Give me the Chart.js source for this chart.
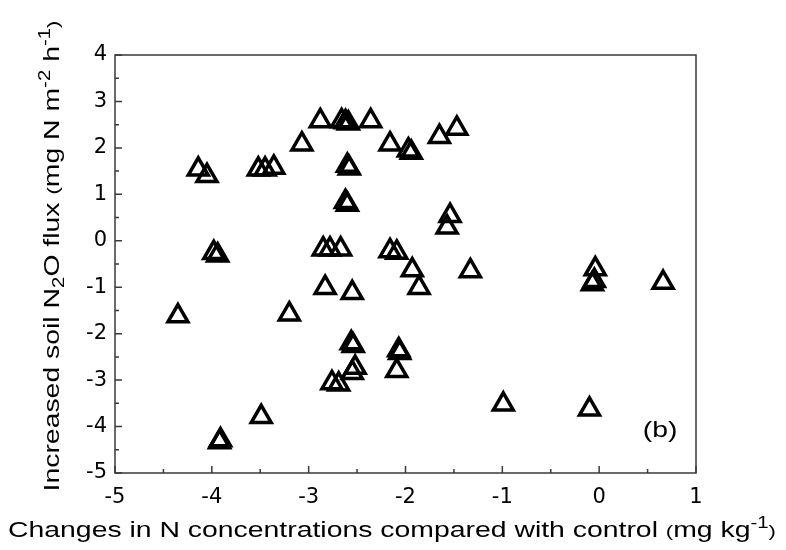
<!DOCTYPE html>
<html><head><meta charset="utf-8">
<script src="https://cdn.jsdelivr.net/npm/chart.js@4/dist/chart.umd.min.js"></script>
<style>html,body{margin:0;padding:0;background:#fff;}#wrap{width:786px;height:550px;}</style>
</head><body><div id="wrap"><canvas id="c" width="786" height="550"></canvas></div>
<script>
// ---- data ----
const xValues = [-4.14,-4.05,-3.52,-3.45,-3.36,-3.07,-2.88,-2.66,-2.62,-2.59,-2.36,-2.16,-1.97,-1.94,-1.65,-1.47,
  -2.60,-2.58,-2.62,-2.60,-1.54,-1.57,-3.98,-3.94,-2.85,-2.78,-2.67,-2.16,-2.09,-1.93,-1.86,-1.33,
  -0.04,-0.05,-0.07,0.66,-2.83,-2.55,-4.35,-3.20,-2.56,-2.54,-2.07,-2.06,-2.09,-2.52,-2.55,-2.76,-2.69,
  -3.49,-3.91,-3.92,-0.99,-0.10];
const yValues = [1.54,1.40,1.54,1.54,1.58,2.08,2.58,2.58,2.56,2.53,2.58,2.08,1.95,1.90,2.24,2.42,
  1.62,1.56,0.84,0.78,0.54,0.29,-0.26,-0.31,-0.18,-0.18,-0.18,-0.22,-0.25,-0.63,-1.01,-0.65,
  -0.61,-0.86,-0.93,-0.90,-1.01,-1.12,-1.62,-1.58,-2.20,-2.26,-2.35,-2.41,-2.80,-2.73,-2.84,-3.06,-3.09,
  -3.79,-4.29,-4.33,-3.52,-3.63];
const xTickValues = [-5,-4,-3,-2,-1,0,1];
const xTickLabels = ['-5','-4','-3','-2','-1','0','1'];
const yTickValues = [-5,-4,-3,-2,-1,0,1,2,3,4];
const yTickLabels = ['-5','-4','-3','-2','-1','0','1','2','3','4'];
const xTitleParts = ['Changes in N concentrations compared with control ', '(', 'mg kg', '-1', ')'];
const xTitleKinds = ['n','s','n','sup','s'];
const yTitleParts = ['Increased soil N', '2', 'O flux ', '(', 'mg N m', '-2', ' h', '-1', ')'];
const yTitleKinds = ['n','sub','n','s','n','sup','n','sup','s'];
const panelLabel = '(b)';

const FONT = '"Liberation Sans", Arial, sans-serif';
const TICKFONT = '"DejaVu Sans", sans-serif';
const STRETCH = 1.29;
const points = xValues.map((x, i) => ({x: x, y: yValues[i]}));

function segSize(k, size) {
  return (k === 'sup' || k === 'sub') ? size * 0.72 : (k === 's' ? size * 0.78 : size);
}
function drawRich(ctx, parts, kinds, size) {
  let total = 0;
  parts.forEach((t, i) => { ctx.font = segSize(kinds[i], size) + 'px ' + FONT; total += ctx.measureText(t).width; });
  let x = -total / 2;
  ctx.textBaseline = 'alphabetic';
  ctx.textAlign = 'left';
  parts.forEach((t, i) => {
    const k = kinds[i];
    const dy = k === 'sup' ? -size * 0.42 : (k === 'sub' ? size * 0.22 : 0);
    ctx.font = segSize(k, size) + 'px ' + FONT;
    ctx.fillText(t, x, dy);
    x += ctx.measureText(t).width;
  });
}

const framePlugin = {
  id: 'frame',
  beforeDatasetsDraw(chart) {
    const ctx = chart.ctx, a = chart.chartArea;
    const xs = chart.scales.x, ys = chart.scales.y;
    ctx.save();
    ctx.strokeStyle = '#3a3a3a';
    ctx.lineWidth = 1.5;
    ctx.strokeRect(a.left, a.top, a.right - a.left, a.bottom - a.top);
    ctx.beginPath();
    xTickValues.forEach(v => { const p = xs.getPixelForValue(v); ctx.moveTo(p, a.bottom); ctx.lineTo(p, a.bottom - 7); });
    for (let v = -4.5; v < 1; v += 1) { const p = xs.getPixelForValue(v); ctx.moveTo(p, a.bottom); ctx.lineTo(p, a.bottom - 4); }
    yTickValues.forEach(v => { const p = ys.getPixelForValue(v); ctx.moveTo(a.left, p); ctx.lineTo(a.left + 7, p); });
    for (let v = -4.5; v < 4; v += 1) { const p = ys.getPixelForValue(v); ctx.moveTo(a.left, p); ctx.lineTo(a.left + 4, p); }
    ctx.stroke();
    ctx.restore();
  },
  afterDraw(chart) {
    const ctx = chart.ctx;
    ctx.fillStyle = '#000';
    ctx.save();
    ctx.translate(392, 537);
    ctx.scale(STRETCH, 1);
    drawRich(ctx, xTitleParts, xTitleKinds, 22);
    ctx.restore();
    ctx.save();
    ctx.translate(59, 256);
    ctx.rotate(-Math.PI / 2);
    ctx.scale(STRETCH, 1);
    drawRich(ctx, yTitleParts, yTitleKinds, 22);
    ctx.restore();
    ctx.save();
    ctx.fillStyle = '#000';
    ctx.translate(chart.scales.x.getPixelForValue(0.63), chart.scales.y.getPixelForValue(-4.1));
    ctx.scale(STRETCH, 1);
    ctx.font = '22px ' + FONT;
    ctx.textAlign = 'center';
    ctx.textBaseline = 'middle';
    ctx.fillText(panelLabel, 0, 0);
    ctx.restore();
  }
};

new Chart(document.getElementById('c'), {
  type: 'scatter',
  data: { datasets: [{
    data: points,
    pointStyle: 'triangle',
    pointRadius: 11.5,
    pointHoverRadius: 11.5,
    pointBorderWidth: 3.5,
    pointBorderColor: '#000',
    pointBackgroundColor: 'rgba(0,0,0,0)'
  }]},
  options: {
    responsive: false,
    animation: false,
    devicePixelRatio: 1,
    layout: { padding: { left: 0, top: 55, right: 90, bottom: 0 } },
    plugins: { legend: { display: false }, tooltip: { enabled: false } },
    scales: {
      x: {
        type: 'linear', min: -5, max: 1,
        afterBuildTicks: s => { s.ticks = xTickValues.map(v => ({value: v})); },
        ticks: { callback: (v) => xTickLabels[xTickValues.indexOf(v)], color: '#000', font: { family: TICKFONT, size: 21 }, padding: 12, maxRotation: 0 },
        grid: { display: false, drawTicks: false },
        border: { display: false },
        afterFit: s => { s.height = 77; }
      },
      y: {
        type: 'linear', min: -5, max: 4,
        afterBuildTicks: s => { s.ticks = yTickValues.map(v => ({value: v})); },
        ticks: { callback: (v) => yTickLabels[yTickValues.indexOf(v)], color: '#000', font: { family: TICKFONT, size: 21 }, padding: 8 },
        grid: { display: false, drawTicks: false },
        border: { display: false },
        afterFit: s => { s.width = 115; }
      }
    }
  },
  plugins: [framePlugin]
});
</script></body></html>
